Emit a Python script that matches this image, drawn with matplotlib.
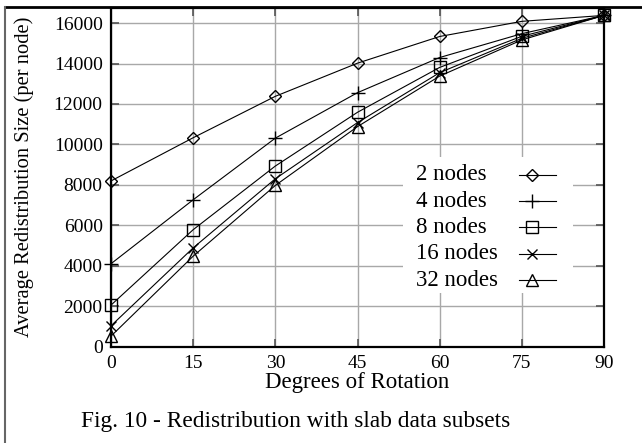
import matplotlib
matplotlib.use("Agg")
import matplotlib.pyplot as plt
from matplotlib.lines import Line2D
from matplotlib.patches import Rectangle

# degrees of rotation and average redistribution size (per node)
degrees = [0, 15, 30, 45, 60, 75, 90]
nodes_2 = [8192, 10330, 12380, 14020, 15340, 16090, 16384]
nodes_4 = [4096, 7260, 10310, 12560, 14300, 15480, 16384]
nodes_8 = [2048, 5780, 8930, 11590, 13810, 15350, 16384]
nodes_16 = [1024, 4880, 8300, 11080, 13550, 15250, 16384]
nodes_32 = [512, 4470, 7970, 10880, 13380, 15170, 16384]

series_labels = ["2 nodes", "4 nodes", "8 nodes", "16 nodes", "32 nodes"]
x_ticks = [0, 15, 30, 45, 60, 75, 90]
y_ticks = [0, 2000, 4000, 6000, 8000, 10000, 12000, 14000, 16000]

plt.rcParams["font.family"] = ["Liberation Serif", "DejaVu Serif"]

W, H = 642, 443
fig = plt.figure(figsize=(W / 100, H / 100), dpi=100)
ax = fig.add_axes([111 / W, 1 - 346.5 / H, (604 - 111) / W, (346.5 - 8) / H])

styles = [
    dict(marker="D", markersize=6.5, markerfacecolor="none"),
    dict(marker="+", markersize=10, markeredgewidth=1.0),
    dict(marker="s", markersize=8, markerfacecolor="none"),
    dict(marker="x", markersize=7.5, markeredgewidth=1.0),
    dict(marker="^", markersize=8, markerfacecolor="none"),
]
all_series = [nodes_2, nodes_4, nodes_8, nodes_16, nodes_32]
for vals, lab, st in zip(all_series, series_labels, styles):
    ax.plot(degrees, vals, color="black", linewidth=0.8, markeredgecolor="black",
            label=lab, clip_on=False, zorder=3, **st)

ax.set_xlim(0, 90)
ax.set_ylim(0, 16750)
ax.set_xticks(x_ticks)
ax.set_yticks(y_ticks)
ax.grid(True, color="#a8a8a8", linewidth=1.0)
ax.set_axisbelow(True)
ax.tick_params(direction="in", length=6, width=1.2, color="#555555",
               top=True, right=True, labelsize=14, pad=6)
for sp in ax.spines.values():
    sp.set_linewidth(1.6)

ax.set_xlabel("Degrees of Rotation", fontsize=16.5, labelpad=0)
ax.set_ylabel("Average Redistribution Size (per node)", fontsize=14.8, labelpad=14)

# key in gnuplot style: white box, labels left aligned, sample line to the right
box = Rectangle((0.592, 0.158), 0.345, 0.402, transform=ax.transAxes,
                facecolor="white", edgecolor="none", zorder=4)
ax.add_patch(box)
row_top, row_step = 0.507, 0.0777
for i, (lab, st) in enumerate(zip(series_labels, styles)):
    y = row_top - i * row_step
    ax.text(0.6187, y, lab, transform=ax.transAxes, fontsize=16.5,
            ha="left", va="center", zorder=5)
    ax.add_line(Line2D([0.8276, 0.9026], [y, y], transform=ax.transAxes,
                       color="black", linewidth=0.8, zorder=5))
    ax.add_line(Line2D([0.853], [y], transform=ax.transAxes, color="black",
                       markeredgecolor="black", linestyle="none", zorder=5, **st))

fig.text(296 / W, 1 - 422 / H, "Fig. 10 - Redistribution with slab data subsets",
         fontsize=16.8, ha="center", va="center")

# page border lines (top and left)
fig.add_artist(Line2D([5 / W, 1], [1 - 7 / H, 1 - 7 / H], color="black", linewidth=2))
fig.add_artist(Line2D([5 / W, 5 / W], [1 - 7 / H, 0], color="#666666", linewidth=1.5))

fig.savefig("out.png", dpi=100)
